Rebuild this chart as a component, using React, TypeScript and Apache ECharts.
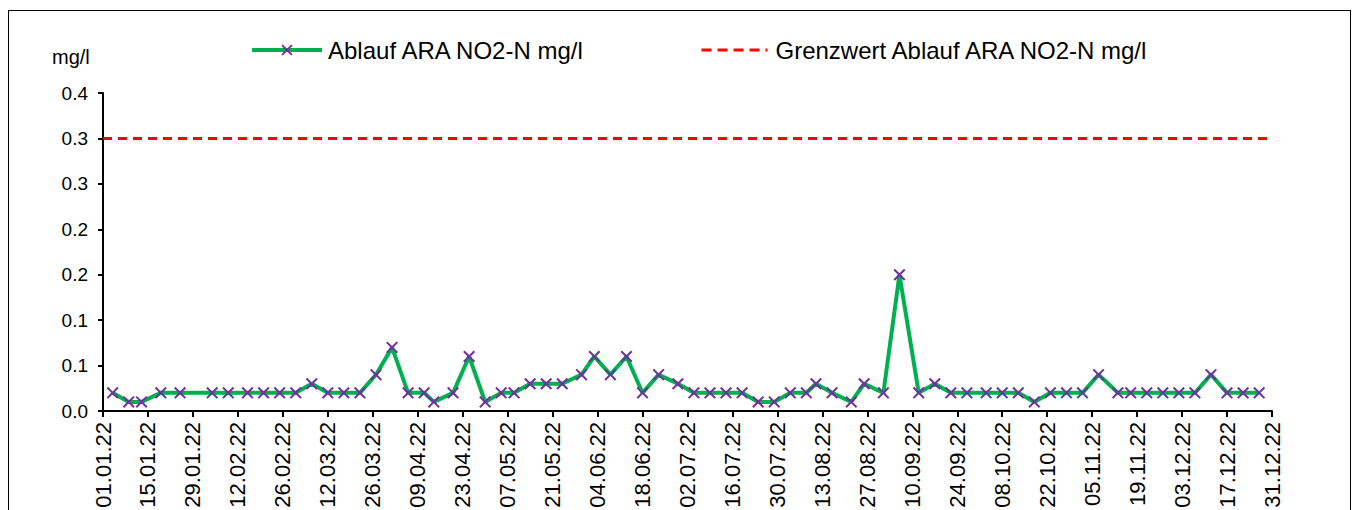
import React, { useEffect, useRef } from "react";
import * as echarts from "echarts";

const seriesName = "Ablauf ARA NO2-N mg/l";
const limitName = "Grenzwert Ablauf ARA NO2-N mg/l";
const unitLabel = "mg/l";

const sampleDates = [
  "04.01.22", "09.01.22", "13.01.22", "19.01.22", "25.01.22", "04.02.22", "09.02.22", "15.02.22",
  "20.02.22", "25.02.22", "02.03.22", "07.03.22", "12.03.22", "17.03.22", "22.03.22", "27.03.22",
  "01.04.22", "06.04.22", "11.04.22", "14.04.22", "20.04.22", "25.04.22", "30.04.22", "05.05.22",
  "09.05.22", "14.05.22", "19.05.22", "24.05.22", "30.05.22", "03.06.22", "08.06.22", "13.06.22",
  "18.06.22", "23.06.22", "29.06.22", "04.07.22", "09.07.22", "14.07.22", "19.07.22", "24.07.22",
  "29.07.22", "03.08.22", "08.08.22", "11.08.22", "16.08.22", "22.08.22", "26.08.22", "01.09.22",
  "06.09.22", "12.09.22", "17.09.22", "22.09.22", "27.09.22", "03.10.22", "08.10.22", "13.10.22",
  "18.10.22", "23.10.22", "28.10.22", "02.11.22", "07.11.22", "13.11.22", "17.11.22", "22.11.22",
  "27.11.22", "02.12.22", "07.12.22", "12.12.22", "17.12.22", "22.12.22", "27.12.22",
];

const sampleValues = [
  0.02, 0.01, 0.01, 0.02, 0.02, 0.02, 0.02, 0.02,
  0.02, 0.02, 0.02, 0.03, 0.02, 0.02, 0.02, 0.04,
  0.07, 0.02, 0.02, 0.01, 0.02, 0.06, 0.01, 0.02,
  0.02, 0.03, 0.03, 0.03, 0.04, 0.06, 0.04, 0.06,
  0.02, 0.04, 0.03, 0.02, 0.02, 0.02, 0.02, 0.01,
  0.01, 0.02, 0.02, 0.03, 0.02, 0.01, 0.03, 0.02,
  0.15, 0.02, 0.03, 0.02, 0.02, 0.02, 0.02, 0.02,
  0.01, 0.02, 0.02, 0.02, 0.04, 0.02, 0.02, 0.02,
  0.02, 0.02, 0.02, 0.04, 0.02, 0.02, 0.02,
];

const limitValue = 0.3;
const axisStart = "01.01.22";
const axisEnd = "31.12.22";
const xTickStepDays = 14;
const yMax = 0.35;
const yStep = 0.05;
const yTickLabels = ["0.0", "0.1", "0.1", "0.2", "0.2", "0.3", "0.3", "0.4"];

const DAY = 86400000;
const BASE = Date.UTC(2022, 0, 1);

function toDay(s: string): number {
  const [d, m, y] = s.split(".").map((p) => parseInt(p, 10));
  return Math.round((Date.UTC(2000 + y, m - 1, d) - BASE) / DAY);
}

function fromDay(v: number): string {
  const dt = new Date(BASE + Math.round(v) * DAY);
  const dd = String(dt.getUTCDate()).padStart(2, "0");
  const mm = String(dt.getUTCMonth() + 1).padStart(2, "0");
  const yy = String(dt.getUTCFullYear() % 100).padStart(2, "0");
  return `${dd}.${mm}.${yy}`;
}

const FONT = "'Liberation Sans', Arial, Helvetica, sans-serif";
const X_SYMBOL =
  "path://M0,1.2L1.2,0L5,3.8L8.8,0L10,1.2L6.2,5L10,8.8L8.8,10L5,6.2L1.2,10L0,8.8L3.8,5Z";

export default function App() {
  const ref = useRef<HTMLDivElement>(null);

  useEffect(() => {
    if (!ref.current) return;
    const chart = echarts.init(ref.current, null, { renderer: "svg" });
    const xMin = toDay(axisStart);
    const xMax = toDay(axisEnd);
    const mainData = sampleDates.map((d, i) => [toDay(d), sampleValues[i]]);
    const limitData = [
      [xMin, limitValue],
      [xMax, limitValue],
    ];

    chart.setOption({
      animation: false,
      textStyle: { fontFamily: FONT, color: "#000" },
      grid: { left: 94, top: 82, right: 78, bottom: 118, containLabel: false },
      legend: [
        {
          data: [seriesName],
          left: 241,
          top: 27,
          padding: 0,
          itemWidth: 70,
          itemHeight: 14,
          lineStyle: { width: 4, color: "#00B050" },
          itemStyle: { color: "#7030A0" },
          textStyle: { fontFamily: FONT, fontSize: 24, color: "#000", padding: [0, 0, 0, 1] },
        },
        {
          data: [limitName],
          left: 691,
          top: 27,
          padding: 0,
          itemWidth: 66,
          itemHeight: 14,
          lineStyle: { width: 3, color: "#FF0000", type: [10, 6] },
          itemStyle: { opacity: 0 },
          textStyle: { fontFamily: FONT, fontSize: 24, color: "#000", padding: [0, 0, 0, 3] },
        },
      ],
      graphic: [
        {
          type: "text",
          left: 43,
          top: 36,
          style: { text: unitLabel, font: `20px ${FONT}`, fill: "#000" },
        },
      ],
      xAxis: {
        type: "value",
        min: xMin,
        max: xMax,
        interval: xTickStepDays,
        axisLine: { show: true, lineStyle: { color: "#000", width: 2 } },
        axisTick: { show: true, length: 6, inside: false, lineStyle: { color: "#000", width: 2 } },
        splitLine: { show: false },
        axisLabel: {
          rotate: 90,
          margin: 11,
          fontSize: 22,
          fontFamily: FONT,
          color: "#000",
          formatter: (v: number) => fromDay(v),
        },
      },
      yAxis: {
        type: "value",
        min: 0,
        max: yMax,
        interval: yStep,
        axisLine: { show: true, lineStyle: { color: "#000", width: 2 } },
        axisTick: { show: true, length: 5, inside: false, lineStyle: { color: "#000", width: 2 } },
        splitLine: { show: false },
        axisLabel: {
          margin: 15,
          fontSize: 19,
          fontFamily: FONT,
          color: "#000",
          formatter: (v: number) => yTickLabels[Math.round(v / yStep)] ?? "",
        },
      },
      series: [
        {
          name: seriesName,
          type: "line",
          data: mainData,
          symbol: X_SYMBOL,
          symbolSize: 12,
          showAllSymbol: true,
          lineStyle: { color: "#00B050", width: 4 },
          itemStyle: { color: "#7030A0" },
          z: 3,
        },
        {
          name: limitName,
          type: "line",
          data: limitData,
          symbol: "none",
          lineStyle: { color: "#FF0000", width: 3, type: [9, 6] },
          itemStyle: { color: "#FF0000" },
          z: 2,
        },
      ],
    });

    return () => chart.dispose();
  }, []);

  return (
    <div
      style={{
        marginTop: 2,
        width: 1343,
        height: 520,
        border: "1px solid #000",
        boxSizing: "border-box",
        position: "relative",
      }}
    >
      <div ref={ref} style={{ position: "absolute", left: 0, top: 0, width: 1341, height: 518 }} />
    </div>
  );
}
